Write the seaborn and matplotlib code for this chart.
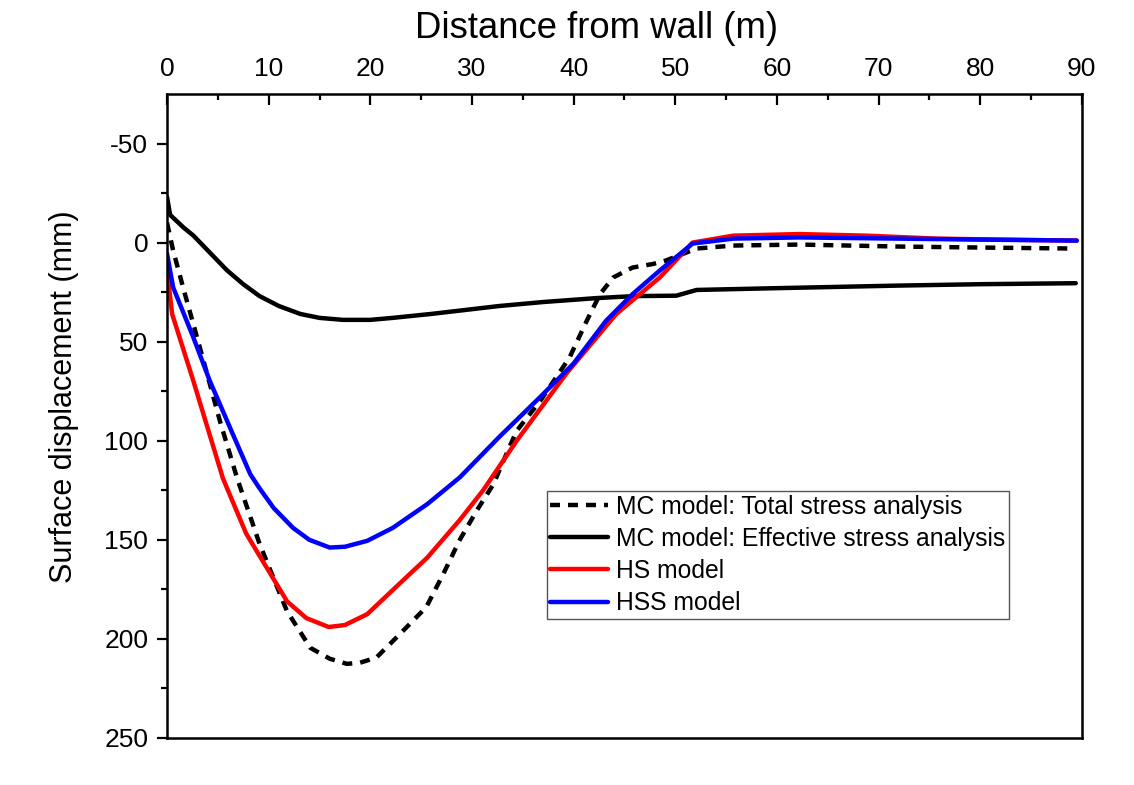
import numpy as np
import pandas as pd
import matplotlib
matplotlib.use("Agg")
import matplotlib.pyplot as plt
import seaborn as sns

# ---- data ----
mc_total_x = [0, 0.6, 1.6, 3.5, 5.2, 6.9, 9.1, 11.8, 14.1, 16, 17.7, 19, 20.6, 22.9, 25.5,
              27.2, 28.8, 30.5, 32.1, 33.7, 34.4, 36.7, 39.6, 41.3, 42.6, 43.9, 45.8,
              47.8, 49.1, 52.1, 55.7, 62.2, 72, 80, 89]
mc_total_y = [-10, 4, 23, 58, 90, 119, 152, 186, 204.5, 210, 212.6, 212, 209.4, 197.6, 184,
              167, 150, 135, 122, 103, 95, 80, 58, 39.4, 26, 17.6, 12.6,
              10.8, 9, 3, 1.5, 1, 2, 2.5, 3]

mc_eff_x = [0, 0.3, 1.6, 2.6, 4.2, 5.9, 7.5, 9.1, 11, 13.1, 15, 17.3, 20, 22.2, 26, 32.7,
            37, 42.3, 46, 50.1, 52.1, 60, 72, 80, 89.4]
mc_eff_y = [-23, -14, -7.7, -3.5, 5, 14, 21, 27, 32, 36, 38, 39, 39, 38, 36, 32,
            30, 28, 27, 26.8, 23.9, 23, 21.7, 21, 20.5]

hs_x = [0, 0.5, 2.6, 3.9, 5.5, 6.4, 7.8, 9.8, 11.8, 13.7, 15.9, 17.5, 19.7, 22.9, 25.6,
        28.8, 31.1, 34.4, 39.3, 44.2, 48.5, 51.7, 55.7, 62.2, 68.8, 75.7, 82, 89.5]
hs_y = [14, 36, 70, 92, 119, 130, 147, 164, 181, 189.5, 194, 193, 187.5, 172, 159,
        140, 125, 100, 66, 36, 17.5, 0, -3.5, -4.3, -3.5, -2, -1.5, -1]

hss_x = [0, 0.6, 2.6, 4.2, 6.5, 8.2, 9.1, 10.5, 12.4, 14, 16, 17.5, 19.7, 22.2, 25.6, 28.8,
         32.7, 36.7, 40, 43.2, 45.8, 48.5, 51.7, 55.7, 62.2, 72, 80, 89.5]
hss_y = [5.6, 22.6, 48, 69.7, 97, 117, 124, 134, 144, 150, 153.9, 153.5, 150.5, 144, 132, 118.5,
         98, 78, 61, 39.4, 26, 14, 0.5, -2, -2.6, -2, -1.5, -1]

labels = ["MC model: Total stress analysis",
          "MC model: Effective stress analysis",
          "HS model",
          "HSS model"]
xticks = [0, 10, 20, 30, 40, 50, 60, 70, 80, 90]
yticks = [-50, 0, 50, 100, 150, 200, 250]

# ---- style ----
sns.set_theme(style="ticks")
plt.rcParams['font.family'] = ['Liberation Sans', 'DejaVu Sans']
plt.rcParams['axes.unicode_minus'] = False
plt.rcParams['text.color'] = 'black'
plt.rcParams['axes.labelcolor'] = 'black'
plt.rcParams['xtick.color'] = 'black'
plt.rcParams['ytick.color'] = 'black'

fig = plt.figure(figsize=(11.34, 7.85), dpi=100)
ax = fig.add_axes([0.1473, 0.0599, 0.954 - 0.1473, 0.8803 - 0.0599])

lw = 3.2
series = [
    (mc_total_x, mc_total_y, labels[0], "black", (0, (2.25, 1.8))),
    (mc_eff_x, mc_eff_y, labels[1], "black", "-"),
    (hs_x, hs_y, labels[2], "#ff0000", "-"),
    (hss_x, hss_y, labels[3], "#0000ff", "-"),
]
for xs, ys, lab, col, ls in series:
    df = pd.DataFrame({"x": xs, "y": ys})
    sns.lineplot(data=df, x="x", y="y", ax=ax, color=col, linewidth=lw,
                 sort=False, label=lab, estimator=None)
    ax.lines[-1].set_linestyle(ls)
    ax.lines[-1].set_solid_joinstyle("round")

ax.set_xlim(0, 90)
ax.set_ylim(250, -75)
ax.set_xticks(xticks)
ax.set_yticks(yticks)
ax.set_xticks(np.arange(5, 90, 10), minor=True)
ax.set_yticks(np.arange(-25, 250, 50), minor=True)

ax.xaxis.tick_top()
ax.xaxis.set_label_position('top')
ax.set_xlabel("Distance from wall (m)", fontsize=26.3, labelpad=14)
ax.xaxis.label.set_x(0.469)
ax.set_ylabel("Surface displacement (mm)", fontsize=22, labelpad=18)
ax.yaxis.label.set_y(0.530)

ax.tick_params(axis='x', which='major', direction='in', length=8, width=1.6,
               labelsize=19, pad=9, top=True, bottom=False)
ax.tick_params(axis='x', which='minor', direction='in', length=4, width=1.6,
               top=True, bottom=False)
ax.tick_params(axis='y', which='major', direction='out', length=7, width=1.6,
               labelsize=19, pad=6.5, left=True, right=False)
ax.tick_params(axis='y', which='minor', direction='out', length=4, width=1.6,
               left=True, right=False)

for s in ax.spines.values():
    s.set_visible(True)
    s.set_linewidth(1.8)
    s.set_color("black")

leg = ax.legend(loc="upper left", bbox_to_anchor=(0.415, 0.3835), fontsize=17.8,
                frameon=True, fancybox=False, edgecolor="#555555", framealpha=1,
                handlelength=2.35, handletextpad=0.3, labelspacing=0.33,
                borderpad=0.15, borderaxespad=0)
leg.get_frame().set_linewidth(1.0)

fig.savefig("out.png", dpi=100, facecolor="white")
